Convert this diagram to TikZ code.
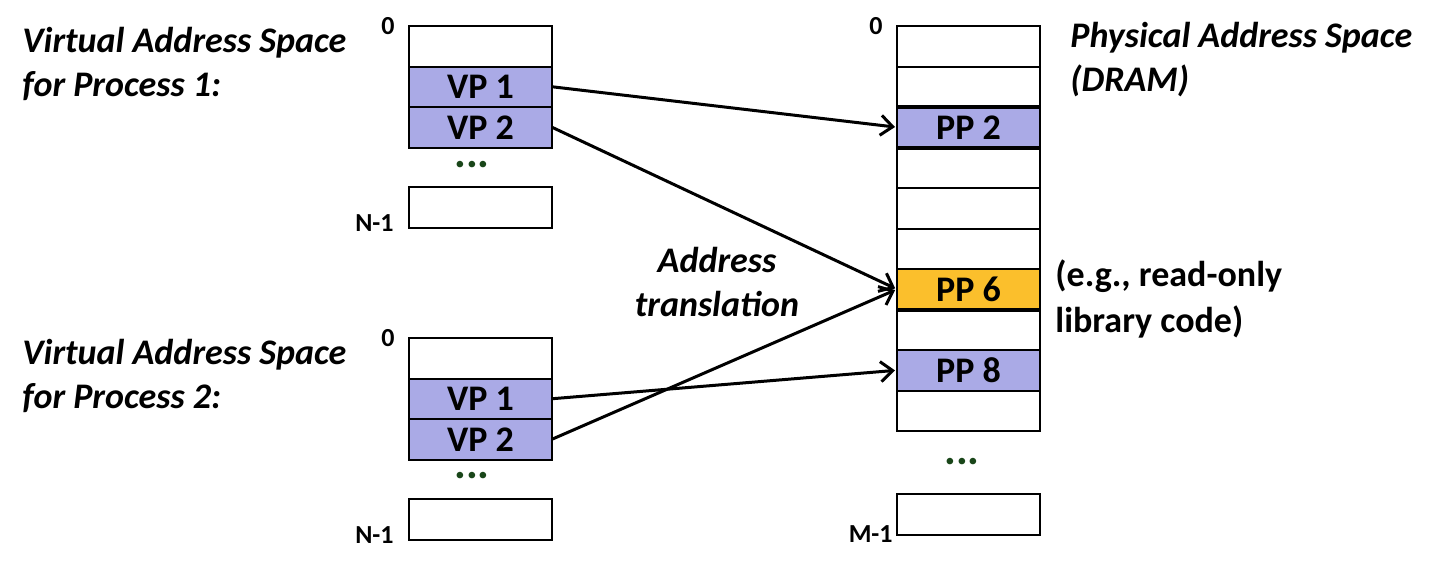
\documentclass[tikz,border=0pt]{standalone}
\usepackage{fontspec}
\setmainfont{Carlito}
\usetikzlibrary{positioning,arrows.meta}
\definecolor{pagelav}{RGB}{170,170,230}
\definecolor{pageorange}{RGB}{251,191,44}
\definecolor{dotgreen}{RGB}{25,70,25}

\begin{document}
\begin{tikzpicture}[x=0.5pt, y=-0.5pt, node distance=0pt]
    \tikzset{cell/.style={draw, line width=1pt, minimum width=71.5pt, minimum height=20.25pt,
                 inner sep=0pt, outer sep=0pt, font=\fontsize{18}{18}\selectfont\bfseries},
             used/.style={cell, fill=pagelav},
             shared/.style={cell, fill=pageorange},
             addr/.style={font=\fontsize{13}{13}\selectfont\bfseries, inner sep=0pt},
             title/.style={font=\fontsize{18}{22}\selectfont\bfseries\itshape, align=left, inner sep=0pt},
             note/.style={font=\fontsize{18}{23}\selectfont\bfseries, align=left, inner sep=0pt},
             gap/.style={text=dotgreen, font=\fontsize{22}{22}\selectfont\bfseries, inner sep=0pt, anchor=base},
             map/.style={->, >={Straight Barb[length=6pt, width=10pt]}, line width=1.5pt, shorten >=1pt}}
    \useasboundingbox (0,0) rectangle (1444,578);

    % process 1
    \node[cell, anchor=north west] (a0) at (409,26) {};
    \node[used, below=of a0] (a1) {VP 1};
    \node[used, below=of a1] (a2) {VP 2};
    \node[gap] (adots) at (472,167) {...};
    \node[cell, anchor=north west] (an) at (409,187) {};
    \node[addr, left=7pt of a0.north west] (azero) {0};
    \node[addr, anchor=base east] (alast) at ([xshift=-7.5pt, yshift=-2pt]an.south west) {N-1};

    % process 2
    \node[cell, anchor=north west] (b0) at (409,338) {};
    \node[used, below=of b0] (b1) {VP 1};
    \node[used, below=of b1] (b2) {VP 2};
    \node[gap] (bdots) at (472,478) {...};
    \node[cell, anchor=north west] (bn) at (409,499) {};
    \node[addr, left=7pt of b0.north west] (bzero) {0};
    \node[addr, anchor=base east] (blast) at ([xshift=-7.5pt, yshift=-2pt]bn.south west) {N-1};

    % physical memory
    \node[cell, anchor=north west] (p0) at (897,26) {};
    \node[cell, below=of p0] (p1) {};
    \node[used, below=of p1] (p2) {PP 2};
    \node[cell, below=of p2] (p3) {};
    \node[cell, below=of p3] (p4) {};
    \node[cell, below=of p4] (p5) {};
    \node[shared, below=of p5] (p6) {PP 6};
    \node[cell, below=of p6] (p7) {};
    \node[used, below=of p7] (p8) {PP 8};
    \node[cell, below=of p8] (p9) {};
    \node[gap] (pdots) at (962,464) {...};
    \node[cell, anchor=north west] (pn) at (897,494) {};
    \node[addr, left=7pt of p0.north west] (pzero) {0};
    \node[addr, anchor=base east] (plast) at ([xshift=-2pt, yshift=-4pt]pn.south west) {M-1};
    \draw[line width=2pt] (p2.north west) -- (p2.north east)
                          (p2.south west) -- (p2.south east)
                          (p6.south west) -- (p6.south east);

    % mappings
    \draw[map] (a1.east) -- (p2.west);
    \draw[map] (a2.east) -- (p6.west);
    \draw[map] (b1.east) -- (p8.west);
    \draw[map] (b2.east) -- (p6.west);

    % labels
    \node[title, anchor=west] (t1) at (22,64) {Virtual Address Space\\for Process 1:};
    \node[title, anchor=west] (t2) at (22,376) {Virtual Address Space\\for Process 2:};
    \node[title, anchor=west] (tp) at (1070,60) {Physical Address Space\\(DRAM)};
    \node[title, align=center] (tr) at (717,282) {Address\\translation};
    \node[note, anchor=west] (tn) at (1055,299) {(e.g., read-only\\library code)};
\end{tikzpicture}
\end{document}
